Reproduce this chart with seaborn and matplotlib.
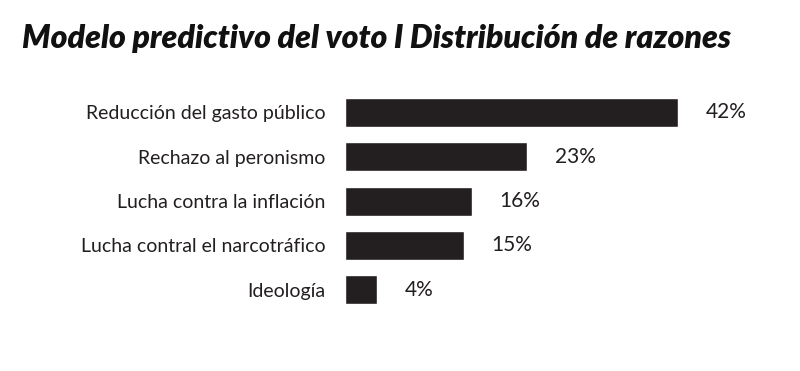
import pandas as pd
import matplotlib.pyplot as plt
import seaborn as sns

razones = ['Reducción del gasto público', 'Rechazo al peronismo',
           'Lucha contra la inflación', 'Lucha contral el narcotráfico', 'Ideología']
porcentajes = [42, 23, 16, 15, 4]

df = pd.DataFrame({'razon': razones, 'pct': porcentajes})

sns.set_theme(style='white')
plt.rcParams['font.family'] = ['Lato', 'DejaVu Sans']

fig = plt.figure(figsize=(8, 3.71), dpi=100)
ax = fig.add_axes([0.431, 0.159, 0.545, 0.598])

sns.barplot(data=df, x='pct', y='razon', color='#231f20', width=0.65,
            saturation=1, ax=ax)

ax.set_xlim(0, 55)
ax.set_xlabel('')
ax.set_ylabel('')
ax.set_xticks([])
ax.tick_params(axis='y', length=0, pad=14, labelsize=14, labelcolor='#231f20')
sns.despine(ax=ax, left=True, bottom=True)

ax.bar_label(ax.containers[0], labels=[f'{v}%' for v in porcentajes],
             padding=20, fontsize=15, color='#231f20')

fig.text(0.028, 0.871, 'Modelo predictivo del voto I Distribución de razones',
         fontsize=23, fontweight='heavy', fontstyle='italic', color='#111111',
         va='baseline', ha='left')

fig.savefig('out.png', dpi=100, facecolor='white')
